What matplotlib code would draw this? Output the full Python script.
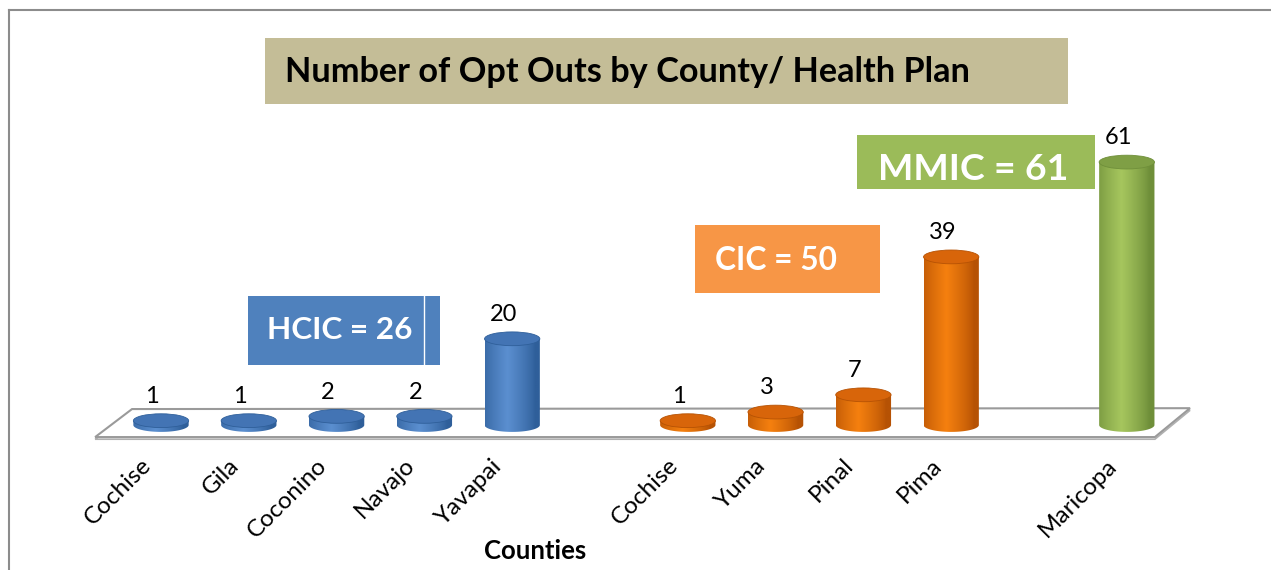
import numpy as np
import matplotlib
matplotlib.use("Agg")
import matplotlib.pyplot as plt
from matplotlib.patches import Ellipse, PathPatch, Polygon, Rectangle
from matplotlib.path import Path

plt.rcParams['font.family'] = ['Lato', 'DejaVu Sans']

# ---- data ----
counties = ["Cochise", "Gila", "Coconino", "Navajo", "Yavapai",
            "Cochise", "Yuma", "Pinal", "Pima", "Maricopa"]
opt_outs = [1, 1, 2, 2, 20, 1, 3, 7, 39, 61]
plans = ["HCIC", "HCIC", "HCIC", "HCIC", "HCIC",
         "CIC", "CIC", "CIC", "CIC", "MMIC"]
positions = [0, 1, 2, 3, 4, 6, 7, 8, 9, 11]
plan_totals = {"HCIC": 26, "CIC": 50, "MMIC": 61}

# colours per plan: (edge shade, centre highlight, top)
plan_colors = {
    "HCIC": ("#2f5f9a", "#5b8fd0", "#4374b4"),
    "CIC": ("#b65204", "#f5800f", "#d8650a"),
    "MMIC": ("#6f8f3a", "#a6c65e", "#7f9f45"),
}
box_colors = {"HCIC": "#4f81bd", "CIC": "#f79646", "MMIC": "#9bbb59"}

W, H = 1271, 570
fig = plt.figure(figsize=(W / 100, H / 100), dpi=100)
ax = fig.add_axes([0, 0, 1, 1])

# scale: one category step = 87.8 px, one unit = 4.31 px, baseline at y=425 px
step_px, unit_px, base_y, x0_px = 87.8, 4.31, 425, 161
ax.set_xlim(-x0_px / step_px, (W - x0_px) / step_px)
ax.set_ylim(-(H - base_y) / unit_px, base_y / unit_px)
ax.axis("off")


def fig_xy(px, py):
    return px / W, 1 - py / H


# outer border
fig.add_artist(plt.Line2D([9 / W, 1], [1 - 10 / H] * 2, color="#8c8c8c", lw=1.5))
fig.add_artist(plt.Line2D([9 / W] * 2, [0, 1 - 10 / H], color="#8c8c8c", lw=1.5))

# floor (parallelogram under the bars)
left, right = positions[0], positions[-1]
floor = [(left - 0.75, -2.8), (left - 0.33, 3.7), (right + 0.72, 3.9), (right + 0.32, -2.8)]
ax.add_patch(Polygon([(x, y - 0.5) for x, y in floor], closed=True,
                     facecolor="white", edgecolor="#b0b0b0", lw=1.2, zorder=1))
ax.add_patch(Polygon(floor, closed=True, facecolor="white",
                     edgecolor="#9a9a9a", lw=1.5, zorder=1))

# cylinders
bw = 0.63      # width in category units
eh = 3.2       # ellipse height in value units
t = np.linspace(0, -np.pi, 60)
for pos, val, plan in zip(positions, opt_outs, plans):
    edge, mid, top = plan_colors[plan]
    xs = pos + bw / 2 * np.cos(t)
    ys = eh / 2 * np.sin(t)
    verts = [(pos - bw / 2, val), (pos + bw / 2, val)] + list(zip(xs, ys)) + [(pos - bw / 2, val)]
    body = PathPatch(Path(verts, closed=False), facecolor="none", edgecolor="none", zorder=2)
    ax.add_patch(body)
    c0 = np.array(matplotlib.colors.to_rgb(edge))
    c1 = np.array(matplotlib.colors.to_rgb(mid))
    g = np.linspace(-1, 1, 64)
    w = np.clip(1 - np.abs(g + 0.2) / 1.0, 0, 1) ** 0.8
    grad = c0[None, :] * (1 - w[:, None]) + c1[None, :] * w[:, None]
    im = ax.imshow(grad[None, :, :], extent=[pos - bw / 2, pos + bw / 2, -eh / 2, val],
                   aspect="auto", zorder=2, interpolation="bilinear")
    im.set_clip_path(body)
    ax.add_patch(Ellipse((pos, val), bw, eh, facecolor=top, edgecolor=edge,
                         lw=0.6, zorder=3))
    ax.text(pos - 0.1, val + 5.6, str(val), ha="center", va="center",
            fontsize=17, color="black", zorder=4)

# category labels
for pos, name in zip(positions, counties):
    ax.text(pos - 0.15, -8.6, name, rotation=45, rotation_mode="anchor",
            ha="right", va="center", fontsize=17.5, color="black")
ax.text(*fig_xy(535, 551), "Counties", transform=fig.transFigure, ha="center",
        va="center", fontsize=18.5, fontweight="bold")

renderer = fig.canvas.get_renderer()


def fit_text(txt, width_px):
    bb = txt.get_window_extent(renderer)
    txt.set_fontsize(txt.get_fontsize() * width_px / bb.width)


# title box
fig.add_artist(Rectangle(fig_xy(265, 104), 803 / W, 66 / H, transform=fig.transFigure,
                         facecolor="#c4bd97", edgecolor="none"))
title = fig.text(*fig_xy(285, 72), "Number of Opt Outs by County/ Health Plan",
                 ha="left", va="center", fontsize=22, fontweight="bold", color="black")
fit_text(title, 683)

# plan total boxes: (left, top, right, bottom) in px, text anchor, text width
boxes = {
    "HCIC": ((248, 296, 440, 365), (340, 330), "center", 145),
    "CIC": ((695, 225, 880, 293), (715, 260), "left", 122),
    "MMIC": ((857, 135, 1095, 189), (878, 170), "left", 190),
}
for plan, (rect, anchor, ha, tw) in boxes.items():
    l, tp, r, b = rect
    fig.add_artist(Rectangle(fig_xy(l, b), (r - l) / W, (b - tp) / H,
                             transform=fig.transFigure,
                             facecolor=box_colors[plan], edgecolor="none"))
    label = fig.text(*fig_xy(*anchor), f"{plan} = {plan_totals[plan]}", ha=ha,
                     va="center", fontsize=22, fontweight="bold", color="white")
    fit_text(label, tw)
fig.add_artist(plt.Line2D([424 / W] * 2, [1 - 296 / H, 1 - 365 / H],
                          color="white", lw=1))

fig.savefig("out.png", dpi=100)
